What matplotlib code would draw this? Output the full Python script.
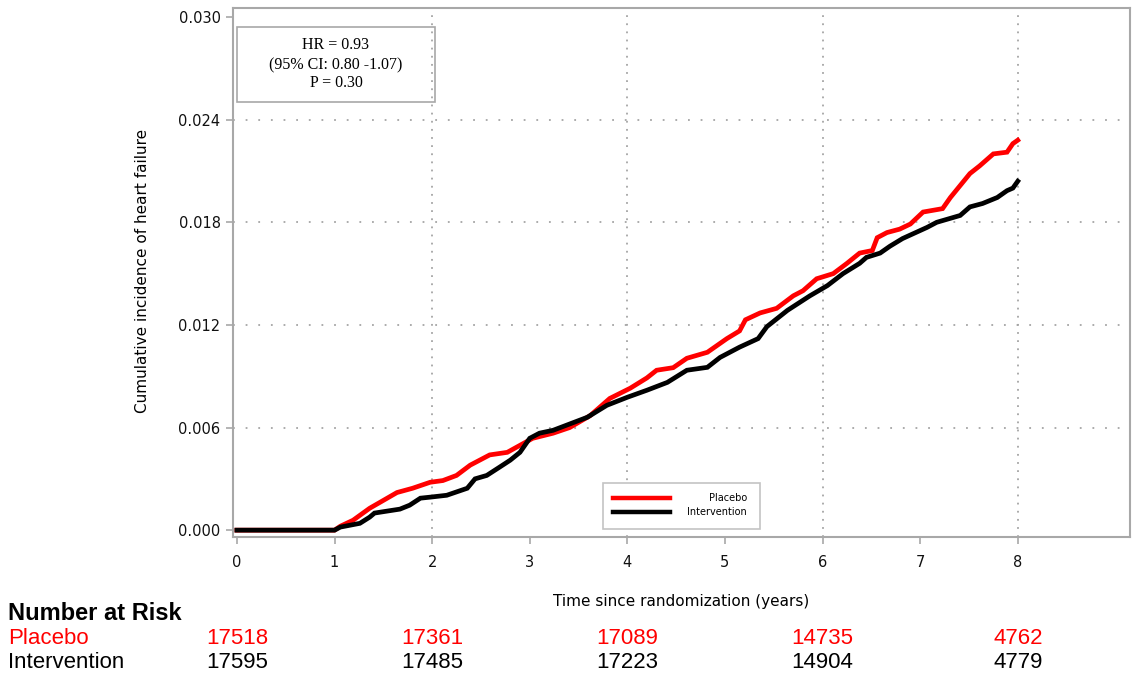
import matplotlib
matplotlib.use("Agg")
import matplotlib.pyplot as plt
import matplotlib.transforms as mtransforms
from matplotlib.patches import Rectangle
from matplotlib.lines import Line2D

# Cumulative incidence curves (years since randomization, incidence)
placebo_t = [0, 1.0, 1.06, 1.19, 1.36, 1.47, 1.64, 1.80, 1.98, 2.11, 2.25, 2.39,
             2.59, 2.77, 2.90, 3.03, 3.24, 3.41, 3.62, 3.82, 4.03, 4.20, 4.30,
             4.47, 4.61, 4.82, 5.02, 5.15, 5.21, 5.36, 5.53, 5.70, 5.80, 5.94,
             6.11, 6.25, 6.38, 6.51, 6.56, 6.66, 6.79, 6.90, 7.03, 7.23, 7.31,
             7.41, 7.51, 7.61, 7.75, 7.89, 7.95, 8.0]
placebo_v = [0, 0, 0.00023, 0.00058, 0.00128, 0.00164, 0.00220, 0.00245, 0.00280,
             0.00290, 0.00320, 0.00380, 0.00440, 0.00455, 0.00496, 0.00537,
             0.00567, 0.00600, 0.00670, 0.00770, 0.00830, 0.00890, 0.00935,
             0.00950, 0.01005, 0.01040, 0.01120, 0.01165, 0.01230, 0.01270,
             0.01297, 0.01370, 0.01400, 0.01470, 0.01500, 0.01560, 0.01620,
             0.01635, 0.01710, 0.01740, 0.01760, 0.01790, 0.01860, 0.01880,
             0.01945, 0.02015, 0.02085, 0.02130, 0.02200, 0.02210, 0.02260,
             0.02280]

intervention_t = [0, 1.0, 1.06, 1.26, 1.36, 1.41, 1.67, 1.77, 1.88, 1.98, 2.15,
                  2.36, 2.44, 2.56, 2.69, 2.80, 2.90, 3.00, 3.10, 3.24, 3.59,
                  3.79, 4.0, 4.2, 4.41, 4.61, 4.82, 4.95, 5.15, 5.34, 5.43, 5.64,
                  5.87, 6.05, 6.21, 6.38, 6.45, 6.59, 6.69, 6.82, 7.07, 7.17,
                  7.41, 7.51, 7.64, 7.79, 7.89, 7.95, 8.0]
intervention_v = [0, 0, 0.00018, 0.00040, 0.00076, 0.00100, 0.00123, 0.00146,
                  0.00187, 0.00193, 0.00204, 0.00245, 0.00300, 0.00320, 0.00368,
                  0.00409, 0.00455, 0.00537, 0.00567, 0.00584, 0.00660, 0.00730,
                  0.00777, 0.00818, 0.00864, 0.00935, 0.00952, 0.01010, 0.01070,
                  0.01120, 0.01190, 0.01285, 0.01370, 0.01430, 0.01500, 0.01560,
                  0.01595, 0.01620, 0.01660, 0.01705, 0.01770, 0.01800, 0.01840,
                  0.01890, 0.01910, 0.01945, 0.01985, 0.02000, 0.02040]

# Axis ticks
x_ticks = [0, 1, 2, 3, 4, 5, 6, 7, 8]
y_ticks = [0.000, 0.006, 0.012, 0.018, 0.024, 0.030]
x_grid = [2, 4, 6, 8]
y_grid = [0.006, 0.012, 0.018, 0.024]

# Number at risk table
risk_times = [0, 2, 4, 6, 8]
risk_placebo = [17518, 17361, 17089, 14735, 4762]
risk_intervention = [17595, 17485, 17223, 14904, 4779]

stats_lines = ["HR = 0.93", "(95% CI: 0.80 -1.07)", "P = 0.30"]

RED = "#ff0000"
GRAY = "#a8a8a8"
SANS = ["DejaVu Sans"]
TABLE_FONT = ["Liberation Sans", "DejaVu Sans"]

W, H = 1133, 677
fig = plt.figure(figsize=(W / 100, H / 100), dpi=100)
ax = fig.add_axes([233 / W, 1 - 537 / H, 897 / W, 529 / H])

ax.set_xlim(-0.04, 9.15)
ax.set_ylim(-0.0004, 0.03053)

for x in x_grid:
    ax.axvline(x, color="#a5a5a5", lw=1.3, ls=(0, (1, 3.5)), zorder=0)
for y in y_grid:
    ax.axhline(y, color="#a5a5a5", lw=1.3, ls=(0, (1, 6)), zorder=0)

ax.plot(intervention_t, intervention_v, color="black", lw=3.4,
        solid_joinstyle="miter", zorder=3)
ax.plot(placebo_t, placebo_v, color=RED, lw=3.4, solid_joinstyle="miter", zorder=2)

ax.set_xticks(x_ticks)
ax.set_xticklabels([str(t) for t in x_ticks], family=SANS, fontsize=10.5)
ax.set_yticks(y_ticks)
ax.set_yticklabels([f"{v:.3f}" for v in y_ticks], family=SANS, fontsize=10.5)
ax.tick_params(axis="both", direction="out", length=5, width=1.2, color=GRAY,
               labelcolor="#111111")
ax.tick_params(axis="x", pad=8)
ax.tick_params(axis="y", pad=4)
for sp in ax.spines.values():
    sp.set_color(GRAY)
    sp.set_linewidth(1.5)

ax.set_ylabel("Cumulative incidence of heart failure", family=SANS, fontsize=11)
ax.yaxis.set_label_coords(-0.0925, 0.503)
ax.set_xlabel("Time since randomization (years)", family=SANS, fontsize=11)
ax.xaxis.set_label_coords(0.5, -0.121)
ax.xaxis.label.set_va("center")

# Hazard ratio box
ax.add_patch(Rectangle((0.0045, 0.822), 0.2207, 0.142, transform=ax.transAxes,
                       fill=False, edgecolor=GRAY, lw=1.2, zorder=4))
for y, line in zip([0.930, 0.892, 0.858], stats_lines):
    ax.text(0.1148, y, line, transform=ax.transAxes, ha="center", va="center",
            family=["Liberation Serif", "DejaVu Serif"], fontsize=11.5)

# Legend box
ax.add_patch(Rectangle((0.4125, 0.015), 0.175, 0.087, transform=ax.transAxes,
                       facecolor="white", edgecolor="#c4c4c4", lw=1.2, zorder=5))
for y, col, name in [(0.0737, RED, "Placebo"), (0.0473, "black", "Intervention")]:
    ax.add_line(Line2D([0.4236, 0.4872], [y, y], transform=ax.transAxes,
                       color=col, lw=3.2, zorder=6))
    ax.text(0.573, y, name, transform=ax.transAxes, ha="right", va="center",
            family=SANS, fontsize=7, zorder=6)

# Number at risk table
fig.text(8 / W, 1 - 613 / H, "Number at Risk", family=TABLE_FONT, fontsize=17,
         fontweight="bold", ha="left", va="center")
fig.text(8 / W, 1 - 638 / H, "Placebo", family=TABLE_FONT, fontsize=16,
         color=RED, ha="left", va="center")
fig.text(8 / W, 1 - 662 / H, "Intervention", family=TABLE_FONT, fontsize=16,
         color="black", ha="left", va="center")
blend = mtransforms.blended_transform_factory(ax.transData, fig.transFigure)
for t, p, i in zip(risk_times, risk_placebo, risk_intervention):
    fig.text(t, 1 - 638 / H, str(p), transform=blend, family=TABLE_FONT,
             fontsize=16, color=RED, ha="center", va="center")
    fig.text(t, 1 - 662 / H, str(i), transform=blend, family=TABLE_FONT,
             fontsize=16, color="black", ha="center", va="center")

fig.savefig("out.png", dpi=100, facecolor="white")
